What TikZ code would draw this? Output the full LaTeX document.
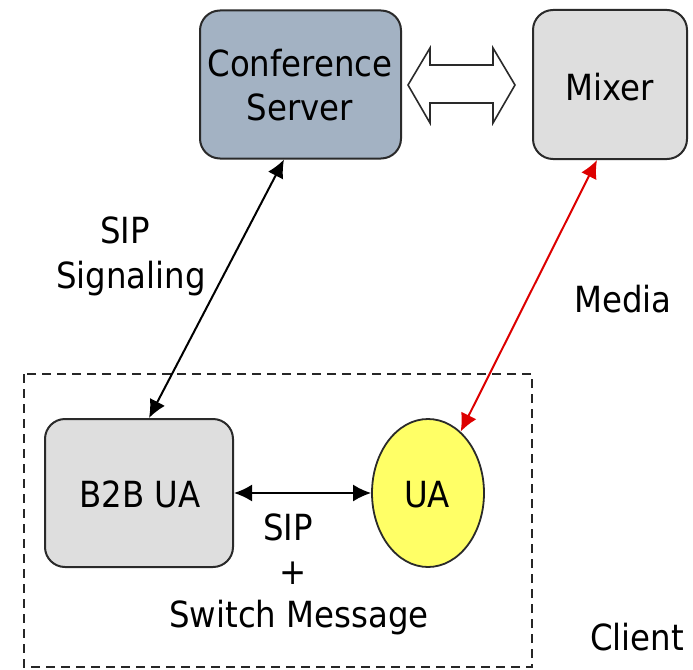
\documentclass[tikz,border=0pt]{standalone}
\usepackage{fontspec}
\setmainfont{DejaVu Sans Condensed}
\usetikzlibrary{arrows.meta,calc,shapes.geometric}
\definecolor{csfill}{HTML}{A3B2C3}
\definecolor{grayfill}{HTML}{DEDEDE}
\definecolor{uafill}{HTML}{FFFF66}
\definecolor{medred}{HTML}{DD0000}
\definecolor{edge}{HTML}{2A2A2A}
\begin{document}
\begin{tikzpicture}[x=1pt,y=-1pt,
  box/.style={draw=edge,line width=2pt,rounded corners=20pt,inner sep=0pt},
  lbl/.style={font=\fontsize{36}{43}\selectfont,anchor=base,inner sep=0pt,align=center,text=black},
  conn/.style={line width=2pt,{Latex[length=18pt,width=17pt]}-{Latex[length=18pt,width=17pt]}},
  client/.style={draw=black!85,line width=2pt,dash pattern=on 9pt off 6pt}]
\useasboundingbox (0,0) rectangle (693,669);
% client area
\draw[client] (24,374) rectangle (532,667);
% boxes
\node[box,fill=csfill,minimum width=201pt,minimum height=148pt] (cs) at (300.5,84.5) {};
\node[box,fill=grayfill,minimum width=154pt,minimum height=149pt] (mix) at (610,84.5) {};
\node[box,fill=grayfill,minimum width=188pt,minimum height=148pt] (b2b) at (139,493) {};
\node[draw=edge,line width=1.8pt,ellipse,fill=uafill,minimum width=112pt,minimum height=148pt,inner sep=0pt] (ua) at (428,493) {};
% texts
\node[lbl] (cst) at (300,77) {Conference};
\node[lbl] (cst2) at (300,120) {Server};
\node[lbl] (mixt) at (610,100) {Mixer};
\node[lbl] (b2bt) at (140,507) {B2B UA};
\node[lbl] (uat) at (427,507) {UA};
\node[lbl] (sip1) at (125,243) {SIP};
\node[lbl] (sip2) at (131,288) {Signaling};
\node[lbl] (media) at (623,312) {Media};
\node[lbl] (client) at (637,650) {Client};
\node[lbl] (sip3) at (288,540) {SIP};
\node[lbl] (plus) at (293,584) {+};
\node[lbl] (sw) at (299,627) {Switch Message};
% hollow double arrow between server and mixer
\draw[line width=1.6pt,draw=edge,fill=white,line join=miter]
  (408,85) -- (430,48) -- (430,65) -- (493,65) -- (493,48) -- (515,85)
  -- (493,123) -- (493,103) -- (430,103) -- (430,123) -- cycle;
% connectors
\draw[conn] ($(cs.south west)+(85,0)$) -- ($(b2b.north west)+(105,0)$);
\draw[conn,draw=medred,fill=medred] ($(mix.south west)+(65,0)$) -- (ua.62);
\draw[conn] (b2b.east) -- (ua.west);
\end{tikzpicture}
\end{document}
